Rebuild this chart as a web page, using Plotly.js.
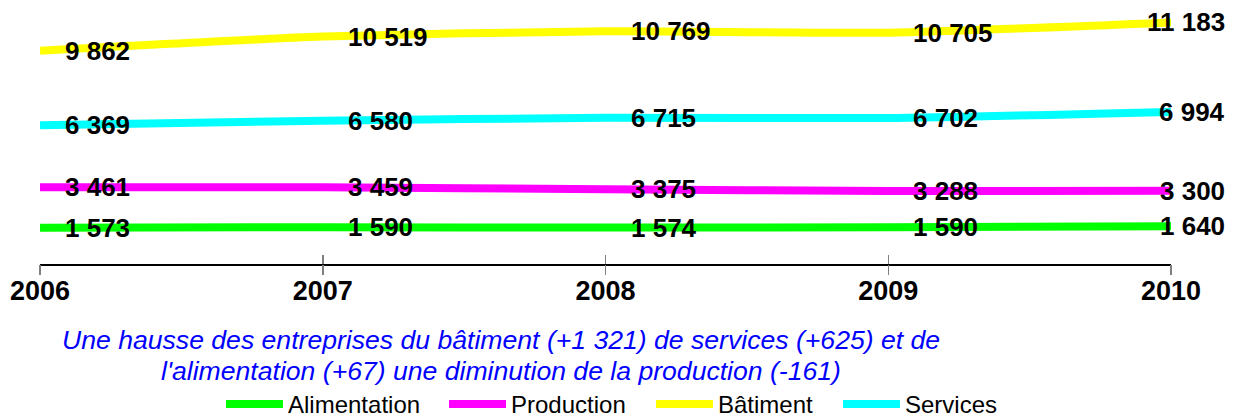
<!DOCTYPE html>
<html>
<head>
<meta charset="utf-8">
<script src="https://cdn.plot.ly/plotly-3.0.1.min.js"></script>
<style>html,body{margin:0;padding:0;background:#fff;}#chart{width:1238px;height:417px;}</style>
</head>
<body>
<div id="chart"></div>
<script>
const years = [2006, 2007, 2008, 2009, 2010];
const alimentation = [1573, 1590, 1574, 1590, 1640];
const production = [3461, 3459, 3375, 3288, 3300];
const batiment = [9862, 10519, 10769, 10705, 11183];
const services = [6369, 6580, 6715, 6702, 6994];
const seriesNames = ["Alimentation", "Production", "Bâtiment", "Services"];
const seriesColors = ["#00FF00", "#FF00FF", "#FFFF00", "#00FFFF"];
const seriesValues = [alimentation, production, batiment, services];
const noteLines = [
  "Une hausse des entreprises du bâtiment (+1 321) de services (+625) et de",
  "l'alimentation (+67) une diminution de la production (-161)"
];

const FONT = 'Arial, "Liberation Sans", sans-serif';
const fmt = v => String(v).replace(/\B(?=(\d{3})+(?!\d))/g, ' ');

// plot area geometry (px)
const L = 40, R = 67, T = 5, B = 153, W = 1238, H = 417;
const PW = W - L - R, PH = H - T - B;
const px2x = p => (p - L) / PW;
const py2y = p => (H - B - p) / PH;

const legendIds = ['legend', 'legend2', 'legend3', 'legend4'];
const legendStarts = [221, 444, 651, 838];
const noteCentersY = [340, 371];

const traces = seriesValues.map((vals, i) => ({
  x: years, y: vals, name: seriesNames[i], type: 'scatter', mode: 'lines',
  line: {color: seriesColors[i], width: 8, shape: 'spline', smoothing: 0.6},
  hoverinfo: 'skip', legend: legendIds[i],
  xaxis: i === 3 ? 'x2' : 'x'
}));

const annotations = [];
seriesValues.forEach(vals => {
  vals.forEach((v, j) => {
    const last = j === years.length - 1;
    annotations.push({
      x: years[j], y: v, xref: 'x', yref: 'y', text: fmt(v), showarrow: false,
      xanchor: last ? 'right' : 'left', yanchor: 'middle',
      xshift: last ? 56 : 23, yshift: 0,
      font: {family: FONT, size: 26, color: '#000', weight: 'bold'}
    });
  });
});
noteLines.forEach((t, i) => {
  annotations.push({
    xref: 'paper', yref: 'paper', x: px2x(501), y: py2y(noteCentersY[i]), xanchor: 'center', yanchor: 'middle',
    text: t, showarrow: false, align: 'center',
    font: {family: FONT, size: 26.6, color: '#0000FF', style: 'italic'}
  });
});

const layout = {
  width: W, height: H,
  margin: {l: L, r: R, t: T, b: B, autoexpand: false},
  paper_bgcolor: '#fff', plot_bgcolor: '#fff',
  showlegend: true,
  xaxis: {range: [2006, 2010], tickvals: years, ticktext: years.map(String),
    showgrid: false, zeroline: false, showline: true, linecolor: '#000', linewidth: 1.5,
    ticks: 'inside', ticklen: 9, tickcolor: '#808080', tickwidth: 1.5, ticklabelstandoff: 2,
    tickfont: {family: FONT, size: 27, color: '#000', weight: 'bold'}, fixedrange: true},
  xaxis2: {range: [2006, 2010], overlaying: 'x', anchor: 'y', side: 'bottom',
    tickvals: years, showticklabels: false, showgrid: false, zeroline: false, showline: false,
    ticks: 'outside', ticklen: 10, tickcolor: '#808080', tickwidth: 1.5, fixedrange: true},
  yaxis: {range: [-130, 12000], visible: false, showgrid: false, zeroline: false, fixedrange: true},
  annotations: annotations
};
legendIds.forEach((id, i) => {
  layout[id] = {orientation: 'h', x: px2x(legendStarts[i]), xanchor: 'left',
    y: py2y(382), yanchor: 'top', itemwidth: 57,
    font: {family: FONT, size: 24, color: '#000'}, bgcolor: 'rgba(0,0,0,0)'};
});

Plotly.newPlot('chart', traces, layout, {displayModeBar: false, staticPlot: true});
</script>
</body>
</html>
